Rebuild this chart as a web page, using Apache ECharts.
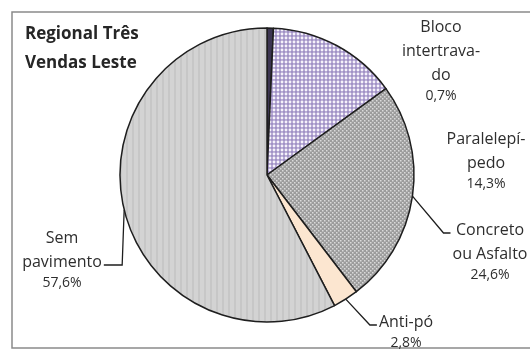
<!DOCTYPE html>
<html><head><meta charset="utf-8">
<script src="https://cdn.jsdelivr.net/npm/echarts@6/dist/echarts.min.js"></script>
<style>html,body{margin:0;padding:0;background:#fff}#c{width:530px;height:356px}</style>
</head><body><div id="c"></div>
<script>
// ---- data ----
const categories = ['Bloco intertravado', 'Paralelepípedo', 'Concreto ou Asfalto', 'Anti-pó', 'Sem pavimento'];
const values = [0.7, 14.3, 24.6, 2.8, 57.6];
const labelTexts = [['Bloco', 'intertrava-', 'do'], ['Paralelepí-', 'pedo'], ['Concreto', 'ou Asfalto'], ['Anti-pó'], ['Sem', 'pavimento']];
const titleLines = ['Regional Três', 'Vendas Leste'];

// ---- layout (label anchors, not data) ----
const labelPos = [
  {x: 441, y: 15, line: false},
  {x: 486, y: 127, line: false},
  {x: 490, y: 218, line: true, side: 'right'},
  {x: 406, y: 310, line: true, side: 'right'},
  {x: 62, y: 226, line: true, side: 'left', lineRow: 1}
];

function pattern(w, h, draw) {
  const c = document.createElement('canvas'); c.width = w; c.height = h;
  const g = c.getContext('2d'); draw(g); return {image: c, repeat: 'repeat'};
}
const purple = pattern(4, 4, g => { g.fillStyle = '#a091c6'; g.fillRect(0,0,4,4); g.fillStyle = '#f6f2fb'; g.beginPath(); g.arc(2,2,1.45,0,Math.PI*2); g.fill(); });
const grayDots = pattern(4, 4, g => { g.fillStyle = '#9c9c9c'; g.fillRect(0,0,4,4); g.fillStyle = '#dadada'; g.fillRect(0,0,1.5,1.5); g.fillRect(2,2,1.5,1.5); });
const stripes = pattern(6, 2, g => { g.fillStyle = '#d3d3d3'; g.fillRect(0,0,6,2); g.fillStyle = '#c7c7c7'; g.fillRect(0,0,2,2); });
const fills = ['#3c3552', purple, grayDots, '#fce6d0', stripes];

const fmtPct = v => v.toFixed(1).replace('.', ',') + '%';

const chart = echarts.init(document.getElementById('c'), null, {renderer: 'canvas'});
chart.setOption({
  backgroundColor: '#ffffff',
  animation: false,
  title: {
    text: titleLines.join('\n'), left: 20, top: 15,
    textStyle: {fontFamily: 'Open Sans', fontWeight: 'bold', fontSize: 17, color: '#262626', lineHeight: 29}
  },
  graphic: [{type: 'rect', shape: {x: 12, y: 12, width: 540, height: 336}, style: {fill: 'none', stroke: '#8a8a8a', lineWidth: 1.5}, z: -1}],
  series: [{
    type: 'pie', center: [267, 175], radius: 147, startAngle: 90, clockwise: true,
    itemStyle: {borderColor: '#1e1e1e', borderWidth: 1.5},
    label: {
      show: true, position: 'outside', color: '#2e2e2e', fontFamily: 'Open Sans', fontSize: 16, overflow: 'none',
      formatter: p => labelTexts[p.dataIndex].map(t => '{n|' + t + '}').join('\n') + '\n{p|' + fmtPct(p.value) + '}',
      rich: {n: {fontFamily: 'Open Sans', fontSize: 16, lineHeight: 24, color: '#2e2e2e'}, p: {fontFamily: 'Open Sans', fontSize: 14, lineHeight: 19, color: '#2e2e2e'}}
    },
    labelLine: {show: true, lineStyle: {color: '#1e1e1e', width: 1.3}},
    labelLayout: function (params) {
      const lp = labelPos[params.dataIndex];
      const w = params.labelRect.width;
      const res = {x: lp.x, y: lp.y, align: 'center', verticalAlign: 'top'};
      if (lp.line && params.labelLinePoints) {
        const s = params.labelLinePoints[0];
        const row = lp.lineRow || 0;
        const ly = lp.y + 12 + row * 24 + 3;
        if (lp.side === 'right') {
          const ex = lp.x - w / 2 - 2;
          res.labelLinePoints = [s, [ex - 7, ly], [ex, ly]];
        } else {
          const ex = lp.x + w / 2 + 2;
          res.labelLinePoints = [s, [s[0] - 2, ly], [ex, ly]];
        }
      }
      return res;
    },
    data: categories.map((c, i) => ({
      name: c, value: values[i],
      itemStyle: {color: fills[i]},
      labelLine: {show: labelPos[i].line}
    }))
  }]
});
</script></body></html>
